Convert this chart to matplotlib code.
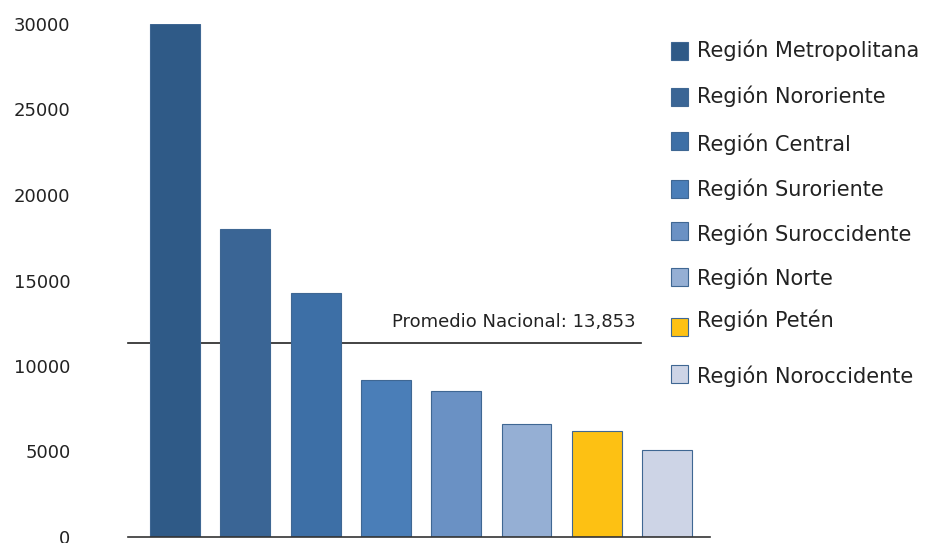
import matplotlib

matplotlib.use("Agg")

import matplotlib.pyplot as plt
from matplotlib.patches import Rectangle

plt.rcParams["font.family"] = ["DejaVu Sans"]

REGIONS = [
    "Región Metropolitana",
    "Región Nororiente",
    "Región Central",
    "Región Suroriente",
    "Región Suroccidente",
    "Región Norte",
    "Región Petén",
    "Región Noroccidente",
]
VALUES = [30000, 18000, 14250, 9180, 8540, 6620, 6200, 5090]
COLORS = ["#2F5A87", "#3A6595", "#3D6FA6", "#4A7EB8",
          "#6A91C4", "#95AFD4", "#FDC113", "#CDD4E6"]
AVG_LINE_Y = 11350
AVG_LABEL = "Promedio Nacional: 13,853"
YTICKS = [0, 5000, 10000, 15000, 20000, 25000, 30000]

W, H = 925, 543
fig = plt.figure(figsize=(W / 100, H / 100), dpi=100)
ax = fig.add_axes([128 / W, 6 / H, (710 - 128) / W, (537 - 24) / H])

xs = range(len(VALUES))
ax.bar(xs, VALUES, width=0.71, color=COLORS, edgecolor="#3F6793", linewidth=0.8, zorder=2)
ax.set_xlim(-0.67, 7.61)
ax.set_ylim(0, 30000)
ax.set_yticks(YTICKS)
ax.set_yticklabels([str(v) for v in YTICKS], fontsize=13, color="#222222")
ax.set_xticks([])
ax.tick_params(axis="y", length=0, pad=41.5)
for side in ("left", "right", "top"):
    ax.spines[side].set_visible(False)
ax.spines["bottom"].set_color("#333333")
ax.spines["bottom"].set_linewidth(1.2)

ax.plot([-0.67, 6.63], [AVG_LINE_Y, AVG_LINE_Y], color="#222222", linewidth=1.2,
        zorder=1, clip_on=False)
ax.text(6.55, AVG_LINE_Y + 700, AVG_LABEL, ha="right", va="bottom",
        fontsize=13, color="#222222")

# legend, drawn by hand to keep the uneven spacing of the original
patch_tops = [42, 88, 132, 180, 222, 268, 318, 365]
text_mid = [50, 96, 144, 189, 234, 278, 320, 376]
for name, color, top, mid in zip(REGIONS, COLORS, patch_tops, text_mid):
    fig.add_artist(Rectangle((671 / W, 1 - (top + 18) / H), 17 / W, 18 / H,
                             transform=fig.transFigure, facecolor=color,
                             edgecolor="#3F6793", linewidth=0.8))
    fig.text(697 / W, 1 - mid / H, name, ha="left", va="center",
             fontsize=15, color="#222222")

fig.savefig("out.png", dpi=100)
